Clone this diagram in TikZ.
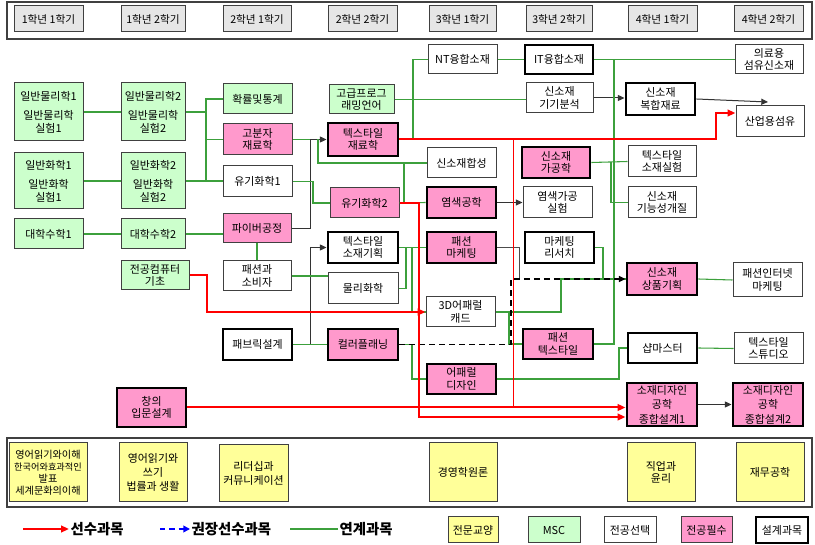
\documentclass[tikz,border=0pt]{standalone}
\usepackage{fontspec}
\setmainfont{Noto Sans CJK KR}
\usetikzlibrary{arrows.meta}
\definecolor{msc}{HTML}{CCFFCC}
\definecolor{req}{HTML}{FF99CC}
\definecolor{gen}{HTML}{FFFF99}
\definecolor{hdr}{HTML}{E6E6E6}
\definecolor{lnk}{RGB}{60,160,60}
\newcommand\nf{\fontsize{8.2}{9.4}\selectfont}
\newcommand\crs[7]{%
  \node[#2, minimum width={(#5-#3)*0.75pt}, minimum height={(#6-#4)*0.75pt}] (#1) at ({(#3+#5)/2},{(#4+#6)/2}) {#7};}
\tikzset{
  bx/.style={draw=black!75, line width=0.75pt, inner sep=0pt, align=center, font=\nf},
  gbox/.style={bx, fill=msc},
  pbox/.style={bx, fill=req},
  wbox/.style={bx, fill=white},
  ybox/.style={bx, fill=gen},
  hbox/.style={bx, fill=hdr, font=\fontsize{8}{9}\selectfont},
  thk/.style={draw=black, line width=2.2pt},
  gl/.style={draw=lnk, line width=0.8pt},
  ba/.style={draw=black!80, line width=0.75pt, -{Triangle[length=5pt,width=4.5pt]}},
  rl/.style={draw=red, line width=1.5pt, -{Triangle[length=6pt,width=5pt]}},
  dl/.style={draw=black, line width=1.1pt, dash pattern=on 4.5pt off 3pt, -{Triangle[length=5pt,width=4.5pt]}},
  lgtext/.style={anchor=west, inner sep=1pt, font=\fontsize{10.8}{12}\selectfont\bfseries},
}
\begin{document}
\begin{tikzpicture}[x=0.75pt,y=-0.75pt]
\useasboundingbox (0,0) rectangle (815,545);
\fill[white] (0,0) rectangle (815,545);
% frames
\draw[black!75, line width=1pt] (7,2) rectangle (812,39);
\draw[black!75, line width=1pt] (7,438) rectangle (812,507);
% header
\crs{h1}{hbox}{14}{6}{83}{32}{1학년 1학기}
\crs{h2}{hbox}{121}{6}{185}{32}{1학년 2학기}
\crs{h3}{hbox}{223}{6}{291}{32}{2학년 1학기}
\crs{h4}{hbox}{328}{6}{397}{32}{2학년 2학기}
\crs{h5}{hbox}{429}{6}{496}{32}{3학년 1학기}
\crs{h6}{hbox}{526}{6}{592}{32}{3학년 2학기}
\crs{h7}{hbox}{628}{6}{697}{32}{4학년 1학기}
\crs{h8}{hbox}{734}{6}{803}{32}{4학년 2학기}
% year 1
\crs{phys1}{gbox}{14}{83}{83}{141}{일반물리학1\\[5pt]일반물리학\\실험1}
\crs{phys2}{gbox}{121}{83}{185}{141}{일반물리학2\\[5pt]일반물리학\\실험2}
\crs{chem1}{gbox}{14}{153}{83}{209}{일반화학1\\[5pt]일반화학\\실험1}
\crs{chem2}{gbox}{121}{153}{185}{209}{일반화학2\\[5pt]일반화학\\실험2}
\crs{math1}{gbox}{14}{219}{83}{249}{대학수학1}
\crs{math2}{gbox}{121}{219}{185}{249}{대학수학2}
\crs{comp}{gbox}{121}{261}{189}{290}{전공컴퓨터\\기초}
\crs{chang}{pbox,thk}{117}{388}{186}{427}{창의\\입문설계}
% year 2-1
\crs{prob}{gbox}{223}{84}{292}{114}{확률및통계}
\crs{polym}{pbox}{223}{124}{292}{155}{고분자\\재료학}
\crs{org1}{wbox}{223}{166}{292}{197}{유기화학1}
\crs{fiber}{pbox}{223}{214}{291}{243}{파이버공정}
\crs{fashcons}{wbox}{223}{261}{291}{291}{패션과\\소비자}
\crs{fabric}{wbox,thk}{223}{329}{292}{360}{패브릭설계}
% year 2-2
\crs{adprog}{gbox}{329}{85}{394}{114}{고급프로그\\래밍언어}
\crs{texmat}{pbox,thk}{328}{123}{398}{156}{텍스타일\\재료학}
\crs{org2}{pbox}{330}{188}{399}{218}{유기화학2}
\crs{texplan}{wbox,thk}{328}{232}{398}{263}{텍스타일\\소재기획}
\crs{physchem}{wbox}{328}{273}{398}{304}{물리화학}
\crs{color}{pbox,thk}{328}{329}{398}{360}{컬러플래닝}
% year 3-1
\crs{nt}{wbox}{428}{45}{497}{74}{NT융합소재}
\crs{synth}{wbox}{427}{148}{496}{178}{신소재합성}
\crs{dye}{pbox,thk}{427}{187}{496}{218}{염색공학}
\crs{fmkt}{pbox,thk}{427}{232}{496}{263}{패션\\마케팅}
\crs{cad}{wbox}{426}{297}{495}{327}{3D어패럴\\캐드}
\crs{appd}{pbox,thk}{427}{364}{496}{394}{어패럴\\디자인}
% year 3-2
\crs{it}{wbox,thk}{525}{45}{593}{74}{IT융합소재}
\crs{anal}{wbox}{526}{83}{593}{113}{신소재\\기기분석}
\crs{proc}{pbox,thk}{522}{147}{590}{178}{신소재\\가공학}
\crs{dyelab}{wbox}{523}{187}{592}{218}{염색가공\\실험}
\crs{mres}{wbox,thk}{525}{232}{594}{263}{마케팅\\리서치}
\crs{ftex}{pbox,thk}{523}{329}{593}{359}{패션\\텍스타일}
% year 4-1
\crs{comp2}{wbox,thk}{626}{83}{695}{115}{신소재\\복합재료}
\crs{texlab}{wbox}{628}{146}{696}{177}{텍스타일\\소재실험}
\crs{func}{wbox}{628}{187}{696}{218}{신소재\\기능성개질}
\crs{prodpl}{pbox,thk}{627}{263}{697}{295}{신소재\\상품기획}
\crs{shop}{wbox,thk}{628}{333}{697}{363}{샵마스터}
\crs{cap1}{pbox,thk}{627}{383}{697}{426}{소재디자인\\[1.5pt]공학\\[1.5pt]종합설계1}
% year 4-2
\crs{med}{wbox}{735}{45}{803}{74}{의료용\\섬유신소재}
\crs{ind}{wbox}{736}{106}{804}{137}{산업용섬유}
\crs{inet}{wbox}{733}{263}{802}{297}{패션인터넷\\마케팅}
\crs{studio}{wbox}{734}{333}{803}{364}{텍스타일\\스튜디오}
\crs{cap2}{pbox,thk}{733}{383}{803}{426}{소재디자인\\[1.5pt]공학\\[1.5pt]종합설계2}
% general education
\crs{ge1}{ybox,font=\fontsize{7.6}{9.1}\selectfont}{9}{443}{87}{502}{영어읽기와이해\\{\fontsize{6.9}{9.1}\selectfont 한국어와효과적인}\\발표\\세계문화의이해}
\crs{ge2}{ybox,font=\fontsize{8.2}{10.5}\selectfont}{119}{443}{187}{502}{영어읽기와\\쓰기\\법률과 생활}
\crs{ge3}{ybox,font=\fontsize{8.2}{10.5}\selectfont}{219}{445}{288}{502}{리더십과\\커뮤니케이션}
\crs{ge4}{ybox}{429}{443}{497}{502}{경영학원론}
\crs{ge5}{ybox}{627}{443}{695}{502}{직업과\\윤리}
\crs{ge6}{ybox}{736}{443}{804}{502}{재무공학}
% legend boxes
\crs{lg1}{ybox}{448}{517}{498}{543}{전문교양}
\crs{lg2}{gbox}{528}{517}{580}{543}{MSC}
\crs{lg3}{wbox}{604}{517}{656}{543}{전공선택}
\crs{lg4}{pbox}{681}{517}{732}{543}{전공필수}
\crs{lg5}{wbox,thk}{756}{517}{808}{543}{설계과목}
% legend lines
\coordinate (lr0) at (23,529);
\node[lgtext] (lrt) at (69,529) {선수과목};
\coordinate (lb0) at (160,529);
\node[lgtext] (lbt) at (190,529) {권장선수과목};
\coordinate (lg0) at (290,529);
\node[lgtext] (lgt) at (338,529) {연계과목};
\draw[rl] (lr0) -- (lrt.west);
\draw[draw=blue, line width=1.5pt, dash pattern=on 4pt off 3pt, -{Triangle[length=5pt,width=5pt]}] (lb0) -- (lbt.west);
\draw[gl] (lg0) -- (lgt.west);

% helper coordinates
\coordinate (ry) at (700,113);
\coordinate (r417) at (600,417);

% black connectors
\draw[ba] (fiber.east) -- (310,228.5) -- (310,139.5) -- (texmat.west);
\draw[ba] (fabric.east) -- (310,344.5) -- (310,247.5) -- (texplan.west);
\draw[ba] (anal.east) -- (anal.east -| comp2.west);
\draw[ba] (comp2.east) -- (768,102);
\draw[ba] (dye.east) -- (dyelab.west);
\draw[ba] (cap1.east) -- (cap2.west);
\draw[draw=black!70, line width=0.75pt] (fmkt.east) -- (519,247.5) -- (519,279);

% green connectors
\draw[gl] (phys1) -- (phys2);
\draw[gl] (chem1) -- (chem2);
\draw[gl] (math1) -- (math2);
\draw[gl] (math2.east) -- (math2.east -| fiber.west);
\draw[gl] (phys2.east) -- (206,112);
\draw[gl] (prob.west) -- (206,99) -- (206,181);
\draw[gl] (polym.west) -- (206,139.5);
\draw[gl] (chem2.east) -- (chem2.east -| org1.west);
\draw[gl] (polym.east) -- (310,139.5);
\draw[gl] (org1.east) -- (313,181.5) -- (313,203) -- (org2.west);
\draw[gl] (318,139.5) -- (318,163) -- (synth.west);
\draw[gl] (org2.east) -- (404,203) -- (404,163);
\draw[gl] (org2.east) -- (dye.west);
\draw[gl] (texmat.east) -- (413,139.5) -- (413,59.5) -- (nt.west);
\draw[gl] (adprog.east) -- (adprog.east -| anal.west);
\draw[gl] (nt) -- (it);
\draw[gl] (it) -- (med);
\draw[gl] (614,59.5) -- (614,344) -- (ftex.east);
\draw[gl] (proc.east) -- (texlab.west);
\draw[gl] (611,162.5) -- (611,202.5) -- (func.west);
\draw[gl] (texplan.east) -- (fmkt.west);
\draw[gl] (physchem.east) -- (406,288.5) -- (406,247.5);
\draw[gl] (412,247.5) -- (412,312) -- (cad.west);
\draw[gl] (fiber.south) -- (fashcons.north);
\draw[gl] (fashcons.east) -- (fashcons.east -| physchem.west);
\draw[gl] (fabric.east) -- (color.west);
\draw[gl] (color.east) -- (412,344.5) -- (412,379) -- (appd.west);
\draw[gl] (cad.east) -- (509,312) -- (509,344) -- (ftex.west);
\draw[gl] (509,312) -- (561,312) -- (561,279) -- (prodpl.west);
\draw[gl] (mres.east) -- (603,247.5) -- (603,279);
\draw[gl] (prodpl.east) -- (inet.west);
\draw[gl] (appd.east) -- (619,379) -- (619,348) -- (shop.west);
\draw[gl] (shop.east) -- (studio.west);

% recommended (dashed)
\draw[dl] (color.east) -- (511,344.5) -- (511,279) -- (prodpl.west);

% prerequisites (red)
\draw[red, line width=1pt] (513.5,139.5) -- (513.5,407.5);
\draw[rl] (texmat.east) -- (716,139.5) -- (716,113) -- (ind.west |- ry);
\draw[rl] (chang.east) -- (chang.east -| cap1.west);
\draw[rl] (org2.east) -- (419,203) -- (419,417) -- (cap1.west |- r417);
\draw[rl] (comp.east) -- (207,275.5) -- (207,312) -- (cad.west);
\end{tikzpicture}
\end{document}
